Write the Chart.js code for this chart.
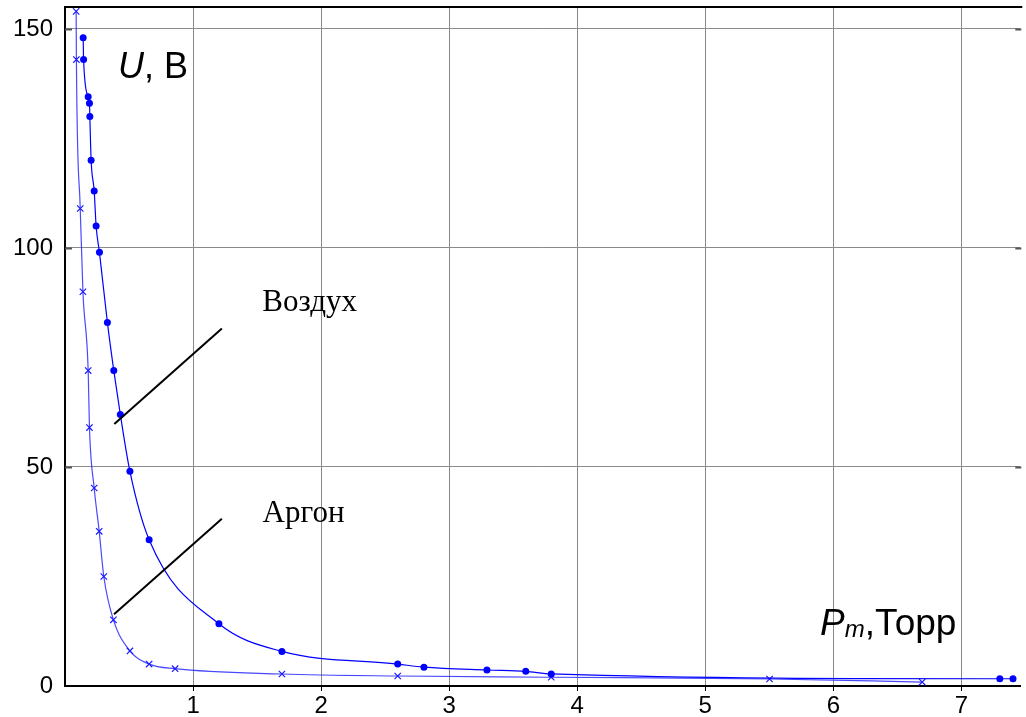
<!DOCTYPE html>
<html><head><meta charset="utf-8">
<script src="https://cdn.jsdelivr.net/npm/chart.js@4/dist/chart.umd.min.js"></script>
<style>html,body{margin:0;padding:0;background:#fff;}canvas{display:block;}</style>
</head><body>
<canvas id="c" width="1026" height="717"></canvas>
<script>
// Air (Воздух) series
const airP = [0.142,0.145,0.181,0.191,0.194,0.204,0.228,0.243,0.269,0.331,0.381,0.432,0.507,0.657,1.202,1.694,2.598,2.803,3.295,3.598,3.797,7.300,7.403];
const airU = [148,143,134.5,133,130,120,113,105,99,83,72,62,49,33.4,14.2,7.9,5.0,4.3,3.65,3.35,2.75,1.65,1.65];
// Argon (Аргон) series
const argonP = [0.087,0.089,0.119,0.140,0.181,0.191,0.228,0.267,0.303,0.378,0.507,0.657,0.860,1.694,2.598,3.797,5.502,6.694];
const argonU = [154,143,109,90,72,59,45.2,35.3,25,15.1,8.0,5.0,3.95,2.74,2.28,2.0,1.6,0.9];
const xTickValues = [1,2,3,4,5,6,7];
const yTickValues = [0,50,100,150];
const seriesLabels = ['Воздух','Аргон'];
// annotation pointer lines in data units [x1,y1,x2,y2]
const airPointer = [0.385,59.8,1.225,81.6];
const argonPointer = [0.383,16.4,1.225,38.2];
const airLabelPos = [1.541,85.5];
const argonLabelPos = [1.543,37.4];
const yTitlePos = [0.414,138.8];
const xTitlePos = [5.896,11.65];

const toPts = (xs, ys) => xs.map((x,i)=>({x, y: ys[i]}));

const decor = {
  id: 'decor',
  afterDraw(chart) {
    const {ctx, chartArea: a, scales: {x, y}} = chart;
    ctx.save();
    // top frame
    ctx.strokeStyle = '#000'; ctx.lineWidth = 2;
    ctx.beginPath(); ctx.moveTo(a.left-1, a.top); ctx.lineTo(a.right+2, a.top); ctx.stroke();
    // inward ticks on y gridlines
    ctx.strokeStyle = '#555'; ctx.lineWidth = 2;
    yTickValues.forEach(v => { if (v === 0) return; const py = Math.round(y.getPixelForValue(v))+0.5;
      ctx.beginPath(); ctx.moveTo(a.left, py); ctx.lineTo(a.left+7, py); ctx.stroke();
      ctx.beginPath(); ctx.moveTo(a.right-5, py); ctx.lineTo(a.right+1, py); ctx.stroke(); });
    // outward ticks on x axis
    ctx.strokeStyle = '#000'; ctx.lineWidth = 1;
    xTickValues.forEach(v => { const px = Math.round(x.getPixelForValue(v))+0.5;
      ctx.beginPath(); ctx.moveTo(px, a.bottom); ctx.lineTo(px, a.bottom+5); ctx.stroke(); });
    // pointer lines
    ctx.strokeStyle = '#000'; ctx.lineWidth = 2;
    [airPointer, argonPointer].forEach(p => {
      ctx.beginPath(); ctx.moveTo(x.getPixelForValue(p[0]), y.getPixelForValue(p[1]));
      ctx.lineTo(x.getPixelForValue(p[2]), y.getPixelForValue(p[3])); ctx.stroke(); });
    // series labels
    ctx.fillStyle = '#000'; ctx.textBaseline = 'alphabetic'; ctx.textAlign = 'left';
    ctx.font = '31px "Liberation Serif", "Times New Roman", serif';
    ctx.fillText(seriesLabels[0], x.getPixelForValue(airLabelPos[0]), y.getPixelForValue(airLabelPos[1]));
    ctx.fillText(seriesLabels[1], x.getPixelForValue(argonLabelPos[0]), y.getPixelForValue(argonLabelPos[1]));
    // y title "U, В"
    let tx = x.getPixelForValue(yTitlePos[0]), ty = y.getPixelForValue(yTitlePos[1]);
    ctx.font = 'italic 36px "Liberation Sans", Arial, sans-serif';
    ctx.fillText('U', tx, ty); tx += ctx.measureText('U').width;
    ctx.font = '36px "Liberation Sans", Arial, sans-serif';
    ctx.fillText(', В', tx, ty);
    // x title "P_m,Торр"
    tx = x.getPixelForValue(xTitlePos[0]); ty = y.getPixelForValue(xTitlePos[1]);
    ctx.font = 'italic 37px "Liberation Sans", Arial, sans-serif';
    ctx.fillText('P', tx, ty); tx += ctx.measureText('P').width;
    ctx.font = 'italic 24px "Liberation Sans", Arial, sans-serif';
    ctx.fillText('m', tx, ty+2); tx += ctx.measureText('m').width;
    ctx.font = '37px "Liberation Sans", Arial, sans-serif';
    ctx.fillText(',Торр', tx, ty);
    ctx.restore();
  }
};

const noPad = s => { s.paddingTop = 0; s.paddingBottom = 0; s.paddingLeft = 0; s.paddingRight = 0; };

new Chart(document.getElementById('c'), {
  type: 'line',
  data: {
    datasets: [
      { label: seriesLabels[0], data: toPts(airP, airU), borderColor: '#0000ff', backgroundColor: '#0000ff',
        borderWidth: 1.2, cubicInterpolationMode: 'monotone', pointStyle: 'circle', pointRadius: 3.5, pointBorderWidth: 0, fill: false },
      { label: seriesLabels[1], data: toPts(argonP, argonU), borderColor: 'rgba(40,40,255,0.85)', backgroundColor: '#0000ff',
        pointBorderColor: '#1a1aff', borderWidth: 1.2, cubicInterpolationMode: 'monotone', pointStyle: 'crossRot', pointRadius: 4.5, pointBorderWidth: 1.2, fill: false }
    ]
  },
  options: {
    responsive: false, animation: false, devicePixelRatio: 1,
    layout: { padding: { top: 7, right: 1, left: 0, bottom: 0 } },
    plugins: { legend: { display: false }, tooltip: { enabled: false } },
    scales: {
      x: { type: 'linear', min: 0, max: 7.46,
        afterFit: s => { s.height = 31; noPad(s); },
        afterBuildTicks: s => { s.ticks = xTickValues.map(v => ({value: v})); },
        ticks: { padding: 6, color: '#000', font: { family: '"Liberation Sans", Arial, sans-serif', size: 24 }, maxRotation: 0 },
        grid: { color: '#8a8a8a', lineWidth: 1, drawTicks: false },
        border: { color: '#000', width: 2 } },
      y: { type: 'linear', min: 0, max: 155,
        afterFit: s => { s.width = 65; noPad(s); },
        afterBuildTicks: s => { s.ticks = yTickValues.map(v => ({value: v})); },
        ticks: { padding: 12, color: '#000', font: { family: '"Liberation Sans", Arial, sans-serif', size: 24 } },
        grid: { color: '#8a8a8a', lineWidth: 1, drawTicks: false },
        border: { color: '#000', width: 2 } }
    }
  },
  plugins: [decor]
});
</script>
</body></html>
